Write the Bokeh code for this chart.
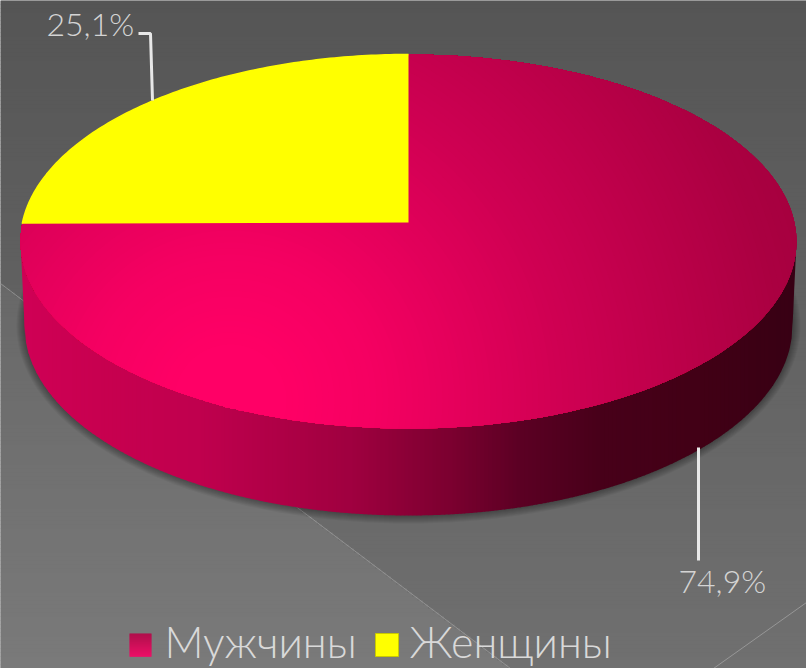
import numpy as np
from bokeh.plotting import figure
from bokeh.models import Range1d
from bokeh.core.properties import value
from bokeh.embed import file_html
from bokeh.resources import INLINE

categories = ["Мужчины", "Женщины"]
shares = [74.9, 25.1]
share_labels = ["74,9%", "25,1%"]
colors = ["#E0005A", "#FFFF00"]

W, H = 806, 668
CX, CY, RX, RY = 408.0, 241.0, 388.0, 187.0
APEX_Y = 222.0
BX, BY, BRX, BRY = 408.0, 325.0, 384.0, 190.0

p = figure(width=W, height=H, output_backend="svg", toolbar_location=None,
           x_range=Range1d(0, W), y_range=Range1d(H, 0), min_border=0)
p.axis.visible = False
p.grid.visible = False
p.outline_line_color = None
p.background_fill_color = "#666666"
p.border_fill_color = "#666666"


def gray(v):
    v = int(round(v))
    return (v, v, v)


# background: vertical gradient bands, split by a diagonal fold
step = 4.0
fold_x = lambda y: (y - 283.0) / 0.755
L, R_, T, B, C = [], [], [], [], []
for y0 in np.arange(0, H, step):
    y1 = y0 + step + 0.6
    ym = y0 + step / 2
    fx = float(np.clip(fold_x(ym), 0, W))
    L.append(fx); R_.append(W); T.append(y0); B.append(y1)
    C.append(gray(np.interp(ym, [0, 668], [85, 112])))
    if fx > 0:
        L.append(0); R_.append(fx); T.append(y0); B.append(y1)
        C.append(gray(np.interp(ym, [283, 668], [104, 122])))
p.quad(left=L, right=R_, top=T, bottom=B, fill_color=C, line_color=None)
p.line([0, 510], [283, 668], line_color="#a0a0a0", line_width=1, line_alpha=0.7)
p.line([713, 806], [668, 602], line_color="#a0a0a0", line_width=1, line_alpha=0.8)

t = np.linspace(0, 2 * np.pi, 361)
# soft shadow round the drum
for d in range(1, 9):
    p.patch(BX + (BRX + d) * np.cos(t), BY + (BRY + d) * np.sin(t),
            fill_color="#000000", fill_alpha=0.045, line_color=None)

# drum wall, strips from left to right
wall_x = [20, 100, 200, 350, 450, 520, 600, 700, 796]
wall_c = [(208, 0, 86), (200, 0, 80), (192, 0, 78), (160, 0, 64), (124, 0, 48), (92, 0, 36), (72, 0, 26), (66, 0, 22), (56, 0, 20)]


def wall_y(x):
    x = np.asarray(x, dtype=float)
    u = np.clip((x - BX) / BRX, -1, 1)
    y = BY + BRY * np.sqrt(1 - u ** 2)
    left = np.interp(x, [CX - RX, BX - BRX], [CY, BY])
    right = np.interp(x, [BX + BRX, CX + RX], [BY, CY])
    y = np.where(x < BX - BRX, left, y)
    y = np.where(x > BX + BRX, right, y)
    return y


xs_edges = np.arange(20, 797, 4.0)
for x0, x1 in zip(xs_edges[:-1], xs_edges[1:]):
    xm = np.linspace(x0, min(x1 + 0.6, 796), 4)
    yb = wall_y(xm)
    c = [int(np.interp((x0 + x1) / 2, wall_x, [k[i] for k in wall_c])) for i in range(3)]
    p.patch(list(xm) + [xm[-1], xm[0]], list(yb) + [CY, CY], fill_color=tuple(c), line_color=None)


def project(theta):
    """Unit-circle angle to the tilted, perspective ellipse of the top face."""
    v = np.sin(theta)
    u = np.cos(theta)
    c = 38.0 / 374.0
    a = 54 * c - 168
    y = (a * v + APEX_Y) / (c * v + 1)
    x = u / (c * v + 1)
    k = np.max(np.abs(np.cos(t)) / (c * np.sin(t) + 1))
    return CX + RX * x / k, y


# top face radial gradient, dark outer first
FX, FY = 230.0, 400.0
phi = np.linspace(0, 2 * np.pi, 721)
ex, ey = project(t)
ang = np.arctan2(ey - FY, ex - FX) % (2 * np.pi)
order = np.argsort(ang)
bound = np.interp(phi, ang[order], np.hypot(ex - FX, ey - FY)[order], period=2 * np.pi)
stops_r = [60, 150, 350, 550, 620]
stops_c = [(255, 0, 102), (245, 0, 98), (205, 0, 82), (172, 0, 66), (164, 0, 62)]
for R in np.arange(620, 50, -6.0):
    r = np.minimum(R, bound)
    c = [int(np.interp(R, stops_r, [k[i] for k in stops_c])) for i in range(3)]
    p.patch(FX + r * np.cos(phi), FY + r * np.sin(phi), fill_color=tuple(c), line_color=None)

# yellow slice from its share
theta = np.pi / 2 + np.linspace(0, shares[1] / 100 * 2 * np.pi, 120)
sx, sy = project(theta)
p.patch(list(sx) + [CX], list(sy) + [APEX_Y], fill_color=colors[1], line_color=None)
p.line(list(sx), list(sy), line_color=colors[1], line_width=1.5)

# leader lines
p.line([138, 150, 152], [33, 33, 100], line_color="#e8e8e8", line_width=3)
p.line([698, 698], [447, 560], line_color="#e8e8e8", line_width=3)

font = value("Lato Light")
p.text(x=[46], y=[23], text=[share_labels[1]], text_font=font, text_font_size="32px",
       text_color="#d4d4d4", text_baseline="middle")
p.text(x=[678], y=[580], text=[share_labels[0]], text_font=font, text_font_size="32px",
       text_color="#d4d4d4", text_baseline="middle")

# legend
for y0 in np.arange(633, 656, 1.0):
    cc = [int(np.interp(y0, [633, 656], [a, b])) for a, b in zip((184, 0, 70), (255, 0, 102))]
    p.quad(left=[129], right=[151], top=[y0], bottom=[y0 + 1.3], fill_color=tuple(cc), line_color=None)
p.quad(left=[375], right=[398], top=[633], bottom=[656], fill_color=colors[1], line_color="#c8c800", line_width=1)
p.text(x=[164, 409], y=[641, 641], text=categories, text_font=font, text_font_size="43px",
       text_color="#d9d9d9", text_baseline="middle")

html = file_html(p, INLINE)
html = html.replace("<head>", "<head><style>html,body{margin:0;padding:0;overflow:hidden}</style>", 1)
open("out.html", "w").write(html)
